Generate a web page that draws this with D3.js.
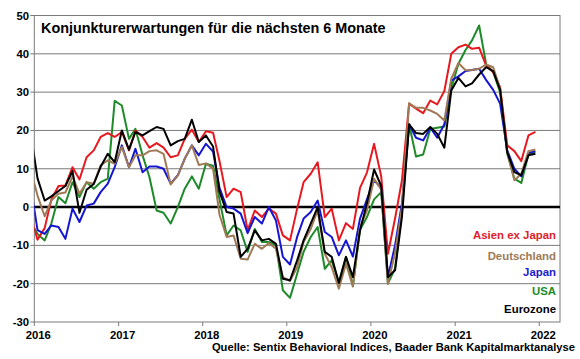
<!DOCTYPE html>
<html><head><meta charset="utf-8">
<script src="https://cdn.jsdelivr.net/npm/d3@7/dist/d3.min.js"></script>
<style>
html,body{margin:0;padding:0;background:#fff;}
svg text{font-family:"Liberation Sans",Arial,sans-serif;font-weight:bold;}
</style></head>
<body>
<svg id="c" width="580" height="359"></svg>
<script>
// Monthly values, Dec 2015 .. Dec 2021 (73 months)
const asienExJapan = [-2,
 -8.5,-5.5,2,5.5,5.6,10.4,7.2,13,14.8,18.3,19.3,18.3,
 19.6,14.8,20,18.3,15.5,16.7,15.5,13,13.5,17.8,20.2,17,
 19.8,19.4,12,2.6,4.8,3.9,-6.1,-0.9,-2.6,-0.4,-1.7,-7.4,
 -8.7,-0.4,6.5,8.7,11.7,-2.6,-0.4,-8.7,-4.2,-5.7,5,9,
 16.5,8,-12.2,-3,7,27,25.7,24.5,27.8,26.8,30.3,40,
 41.7,42.4,41.3,41.6,37,35.2,31.3,16.1,14.6,12,18.7,19.6];
const deutschland = [10,
 3,-2.4,1.7,3.5,3.8,8,3.5,6.5,6.1,10.9,12.2,11.3,
 15.7,10.4,13.5,13.5,14.6,14.8,13.9,5.9,8.3,12.6,16.1,11,
 11.4,10,-2,-7.8,-7.4,-13.5,-13.7,-9.6,-10.9,-9.4,-10.9,-18.3,
 -19.3,-15.7,-9.1,-5.7,-0.9,-12.2,-15.7,-21.3,-14.8,-20.7,-5.2,-0.9,
 7.4,4.5,-20,-12,0,27.1,25.9,25.9,25.2,24.3,22.6,33.5,
 37.6,35.7,35.8,36.1,37.2,36.5,30.9,14.3,7,8.7,14.6,15];
const japan = [6,
 -6,-7,-4.8,-5.2,-8.3,-0.4,-3.9,0.4,0.9,3.9,6.1,10.4,
 16.1,10.4,15.2,9.1,10.6,10.6,10,6.1,8.3,12.6,16.1,13.5,
 16.5,14.5,5,0,-0.4,-1.7,-6.8,-2.6,-4.3,0,-3.5,-13,
 -15,-7.8,-3,-1.3,1.7,-6.5,-7.8,-12.6,-8.7,-12.9,-3,2,
 7,5,-18.3,-10,1,21.6,18.1,17.4,20.7,18.1,21.6,33,
 34.1,35.5,35.8,36.1,33.2,30.6,27,14.8,10,8,14.1,14.6];
const usa = [-4,
 -7,-8.7,-4.3,2.6,1,6.5,2.6,6.5,4.8,6.5,7.4,27.7,
 26.5,17.8,20.4,13.5,7.8,-0.9,-1.5,-4.3,0,4.8,8,4.8,
 11.3,10.8,2,-7.4,-4.8,-6.1,-11.7,-5.7,-9.1,-9.1,-10,-21.7,
 -23.7,-17.4,-11.7,-7.8,-5.2,-16.1,-13.9,-19.6,-13,-20.7,-5.9,-2.6,
 2,3.9,-20,-16,-1,21.6,13.2,13.7,20.4,20.7,21,30.9,
 37.4,41,43.5,47.4,37.4,35.2,30,13.9,7.4,6.3,13.7,14.3];
const eurozone = [20,
 7.5,1.7,2.8,4.2,5.5,9.4,-1.5,4.5,6,10.5,13.9,11.7,
 20,15,19.6,18.7,19.8,20.9,20.4,16.1,17.2,17.8,22.8,17,
 18.7,15.8,4,-1.3,-1.7,-13,-10.9,-6.1,-8.7,-8.3,-9.6,-18.7,
 -19.1,-13.9,-8.7,-4.3,0,-11.7,-13,-19.8,-13,-18.3,-6.1,1,
 9.8,5.5,-18.3,-16.5,-2.5,21.6,19.3,19.1,20.9,19.1,15.5,30.4,
 33.7,31.5,32.3,34.6,36.5,35.5,30.6,14.3,9.1,8.3,13.5,13.9];

const months = d3.timeMonth.range(new Date(2015, 11, 1), new Date(2022, 0, 1));
const yTicks = [-30,-20,-10,0,10,20,30,40,50];
const xYears = [2016,2017,2018,2019,2020,2021,2022];
const seriesNames = ["Asien ex Japan","Deutschland","Japan","USA","Eurozone"];
const title = "Konjunkturerwartungen für die nächsten 6 Monate";
const source = "Quelle: Sentix Behavioral Indices, Baader Bank Kapitalmarktanalyse";

const series = [
  {name:"USA", values:usa, color:"#1e8a2a"},
  {name:"Asien ex Japan", values:asienExJapan, color:"#e8181f"},
  {name:"Japan", values:japan, color:"#1616d2"},
  {name:"Deutschland", values:deutschland, color:"#a07a55"},
  {name:"Eurozone", values:eurozone, color:"#000000"}
];
const legendColors = {"Asien ex Japan":"#e0202a","Deutschland":"#9c7a55","Japan":"#2020d0","USA":"#1e8a2a","Eurozone":"#000"};

const L = 34.3, R = 560, T = 15.5, B = 322;
const svg = d3.select("#c");
const x = d3.scaleTime().domain([new Date(2016,0,1), new Date(2022,3,1)]).range([L, R]);
const y = d3.scaleLinear().domain([-30, 50]).range([B, T]);

svg.append("defs").append("clipPath").attr("id","clip")
  .append("rect").attr("x",L).attr("y",T).attr("width",R-L).attr("height",B-T);

// gridlines
svg.append("g").selectAll("line").data(yTicks.filter(v => v !== 0 && v > -30 && v < 50)).join("line")
  .attr("x1",L).attr("x2",R).attr("y1",d=>y(d)).attr("y2",d=>y(d))
  .attr("stroke","#7a7a7a").attr("stroke-width",1);

// border
svg.append("rect").attr("x",L).attr("y",T).attr("width",R-L).attr("height",B-T)
  .attr("fill","none").attr("stroke","#7a7a7a").attr("stroke-width",1);

// y axis ticks and labels
const ya = svg.append("g");
ya.selectAll("line").data(yTicks).join("line")
  .attr("x1",L-4).attr("x2",L).attr("y1",d=>y(d)).attr("y2",d=>y(d))
  .attr("stroke","#7a7a7a");
ya.selectAll("text").data(yTicks).join("text")
  .attr("x",29).attr("y",d=>y(d)+4).attr("text-anchor","end")
  .attr("font-size","11.3px").attr("fill","#000").text(d=>d);

// x axis ticks and labels
const xa = svg.append("g");
xa.selectAll("line").data(xYears).join("line")
  .attr("x1",d=>x(new Date(d,0,1))).attr("x2",d=>x(new Date(d,0,1)))
  .attr("y1",B).attr("y2",B+4).attr("stroke","#7a7a7a");
xa.selectAll("text").data(xYears).join("text")
  .attr("x",d=>x(new Date(d,0,1))+4).attr("y",339).attr("text-anchor","middle")
  .attr("font-size","11.3px").attr("fill","#000").text(d=>d);

// zero line
svg.append("line").attr("x1",L).attr("x2",R).attr("y1",y(0)).attr("y2",y(0))
  .attr("stroke","#000").attr("stroke-width",2.6);

// lines
const line = d3.line()
  .x((d,i)=>x(d3.timeDay.offset(months[i], 14)))
  .y(d=>y(d));
svg.append("g").attr("clip-path","url(#clip)").selectAll("path").data(series).join("path")
  .attr("d",d=>line(d.values)).attr("fill","none")
  .attr("stroke",d=>d.color).attr("stroke-width",2).attr("stroke-linejoin","round");

// title
svg.append("text").attr("x",41).attr("y",32.5).attr("font-size","14.4px").attr("fill","#000").text(title);

// legend
const legendY = [239, 260, 276, 295, 313];
svg.append("g").selectAll("text").data(seriesNames).join("text")
  .attr("x",556).attr("y",(d,i)=>legendY[i]).attr("text-anchor","end")
  .attr("font-size","11.4px").attr("fill",d=>legendColors[d]).text(d=>d);

// source
svg.append("text").attr("x",575).attr("y",351).attr("text-anchor","end")
  .attr("font-size","11.2px").attr("fill","#000").text(source);
</script>
</body></html>
